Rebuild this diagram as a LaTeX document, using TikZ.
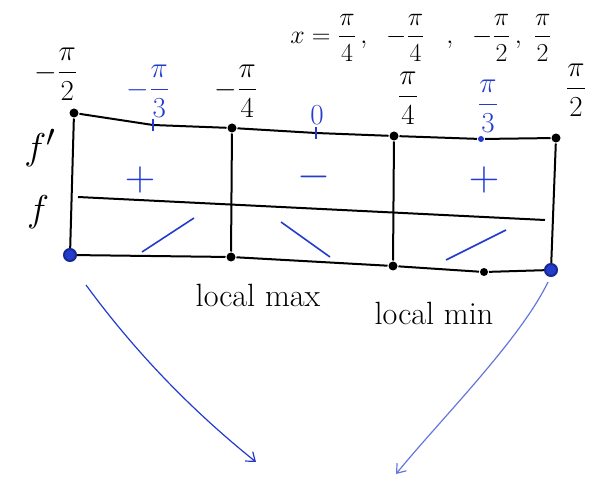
\documentclass[tikz,border=0pt]{standalone}
\usepackage{amsmath}
\usetikzlibrary{arrows.meta}
\definecolor{inkblue}{RGB}{35,60,205}
\newcommand{\bigfr}[1]{\scalebox{1.4}{$#1$}}

\begin{document}
\begin{tikzpicture}[x=1pt,y=-1pt,line width=2pt,
    dot/.style={circle,fill=black,inner sep=0pt,minimum size=9pt},
    bdot/.style={circle,fill=inkblue,draw=inkblue!70!black,inner sep=0pt,minimum size=12pt},
    tick/.style={draw=inkblue,line width=1.6pt},
    lbl/.style={font=\fontsize{20}{24}\selectfont},
    word/.style={font=\fontsize{28}{32}\selectfont},
    sign/.style={font=\fontsize{24}{28}\selectfont,text=inkblue}]
        \useasboundingbox (0,0) rectangle (598,484);
        % grid corners
        \node[dot] (t0) at (74,113) {};
        \node[dot] (t2) at (232,128) {};
        \node[dot] (t4) at (394,136) {};
        \node[dot] (t6) at (556,138) {};
        \coordinate (t1) at (153,125);
        \coordinate (t3) at (316,133);
        \node[circle,fill=inkblue,inner sep=0pt,minimum size=6pt] (t5) at (481,139) {};
        \node[bdot] (b0) at (70,255) {};
        \node[dot] (b2) at (231,257) {};
        \node[dot] (b4) at (393,266) {};
        \node[dot,minimum size=8pt] (b5) at (484,272) {};
        \node[bdot] (b6) at (551,270) {};
        \coordinate (m0) at (78,197);
        \coordinate (m1) at (545,220);
        % table
        \draw (t0) -- (t1) -- (t2) -- (t3) -- (t4) -- (t5) -- (t6);
        \draw (b0) -- (b2) -- (b4) -- (b5) -- (b6);
        \draw (m0) -- (m1);
        \draw (t0) -- (b0);
        \draw (t2) -- (b2);
        \draw (t4) -- (b4);
        \draw (t6) -- (b6);
        \draw[tick] (153,119) -- (153,131);
        \draw[tick] (316,127) -- (316,139);
        % labels
        \node[lbl] (l0) at (56,74) {\bigfr{-\dfrac{\pi}{2}}};
        \node[lbl,text=inkblue] (l1) at (148,91) {\bigfr{-\dfrac{\pi}{3}}};
        \node[lbl] (l2) at (236,91) {\bigfr{-\dfrac{\pi}{4}}};
        \node[lbl,text=inkblue] (l3) at (317,115) {\bigfr{0}};
        \node[lbl] (l4) at (408,98) {\bigfr{\dfrac{\pi}{4}}};
        \node[lbl,text=inkblue] (l5) at (488,106) {\bigfr{\dfrac{\pi}{3}}};
        \node[lbl] (l6) at (576,90) {\bigfr{\dfrac{\pi}{2}}};
        \node[lbl,anchor=west] (xs) at (286,38) {\scalebox{1.25}{$x=\dfrac{\pi}{4}\,,\;\; -\dfrac{\pi}{4}\;\;\;,\;\; -\dfrac{\pi}{2}\,,\;\dfrac{\pi}{2}$}};
        \node[word] (fp) at (40,148) {\scalebox{1.5}{$f'$}};
        \node[word] (f) at (38,212) {\scalebox{1.5}{$f$}};
        \node[sign] (s1) at (140,180) {\scalebox{1.7}{$+$}};
        \node[sign] (s2) at (314,177) {\scalebox{1.7}{$-$}};
        \node[sign] (s3) at (484,180) {\scalebox{1.7}{$+$}};
        \node[word] (mx) at (258,295) {\scalebox{1.15}{local max}};
        \node[word] (mn) at (434,313) {\scalebox{1.15}{local min}};
        % slopes
        \draw[tick] (142,252) -- (194,218);
        \draw[tick] (281,222) -- (330,257);
        \draw[tick] (446,260) -- (506,230);
        % arrows below
        \coordinate (a0) at (86,285);
        \coordinate (a1) at (256,462);
        \coordinate (a2) at (548,282);
        \coordinate (a3) at (396,474);
        \draw[inkblue,line width=1.2pt,-{Straight Barb[length=8pt,width=12pt]}] (a0) .. controls (130,345) and (185,405) .. (a1);
        \draw[inkblue!70,line width=1.2pt,-{Straight Barb[length=8pt,width=12pt]}] (a2) .. controls (520,340) and (440,420) .. (a3);
\end{tikzpicture}
\end{document}
